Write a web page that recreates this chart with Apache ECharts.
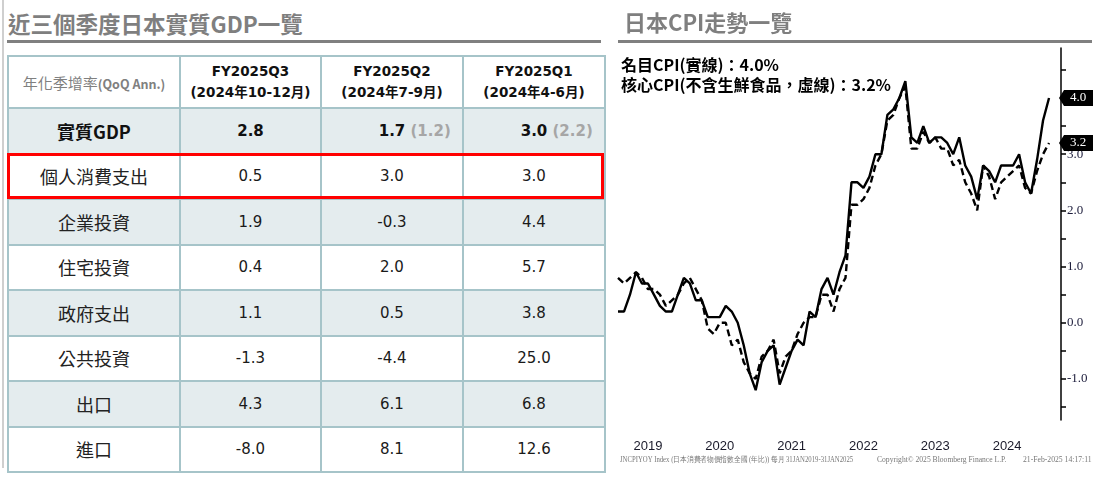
<!doctype html>
<html lang="zh-hant">

<head>
	<meta charset="UTF-8">
	<title>日本GDP與CPI</title>
	<script src="https://cdn.jsdelivr.net/npm/echarts@6/dist/echarts.min.js"></script>
	<style>
		html, body { margin: 0; padding: 0; background: #fff; }
		#page { position: relative; width: 1105px; height: 481px; overflow: hidden; }
		.vbar { position: absolute; left: 2px; top: 0; width: 2px; height: 468px; background: #cfcfcf; }
		.h1 { position: absolute; top: 9px; font: bold 22.5px/28px "Noto Sans CJK TC", sans-serif; color: #7f7f7f; white-space: nowrap; }
		.rule { position: absolute; top: 40px; height: 3px; background: #808080; }
		#gdp { position: absolute; left: 7px; top: 55px; width: 597px; border-collapse: collapse; table-layout: fixed; }
		#gdp td { border: 2px solid #a6c4c9; padding: 0; text-align: center; vertical-align: middle;
			font: 15px "DejaVu Sans", "Noto Sans CJK TC", sans-serif; color: #1a1a1a; }
		#gdp tr.head td { height: 50px; }
		#gdp tr.row td { height: 43.5px; }
		#gdp tr.shade td { background: #e4ecee; }
		#gdp td.name { font: 18px "Noto Sans CJK TC", sans-serif; color: #222; }
		#gdp td.corner { font: 15px "Noto Sans CJK TC", sans-serif; color: #808080; }
		#gdp td.corner span { font: bold 12.5px "Noto Sans CJK TC", sans-serif; }
		#gdp td.qh { font: bold 13.5px/21px "DejaVu Sans", "Noto Sans CJK TC", sans-serif; color: #111; }
		#gdp tr.gdp td { font-weight: bold; color: #111; }
		#gdp tr.gdp td.name { font: bold 18px "Noto Sans CJK TC", sans-serif; color: #111; }
		.n { position: relative; }
		.p { position: absolute; left: 100%; top: 0; white-space: nowrap; color: #a6a6a6; }
		.redbox { position: absolute; left: 7px; top: 153px; width: 597px; height: 46px; box-sizing: border-box; border: 3px solid #ff0000; }
		#cpi { position: absolute; left: 605px; top: 0; width: 500px; height: 481px; }
	</style>
</head>

<body>
	<div id="page">
		<div class="vbar"></div>
		<div class="h1" style="left:8px">近三個季度日本實質GDP一覽</div>
		<div class="rule" style="left:7px;width:594px"></div>
		<table id="gdp"></table>
		<div class="redbox"></div>
		<div id="cpi"></div>
	</div>

	<script>
		// GDP 表格資料
		var quarterNames = ['FY2025Q3', 'FY2025Q2', 'FY2025Q1'];
		var quarterMonths = ['(2024年10-12月)', '(2024年7-9月)', '(2024年4-6月)'];
		var itemNames = ['實質GDP', '個人消費支出', '企業投資', '住宅投資', '政府支出', '公共投資', '出口', '進口'];
		var q3Values = [2.8, 0.5, 1.9, 0.4, 1.1, -1.3, 4.3, -8.0];
		var q2Values = [1.7, 3.0, -0.3, 2.0, 0.5, -4.4, 6.1, 8.1];
		var q1Values = [3.0, 3.0, 4.4, 5.7, 3.8, 25.0, 6.8, 12.6];
		var gdpPrevious = [null, 1.2, 2.2]; // 前次公布值(括號)

		// CPI 年增率 2019/01 - 2025/01
		var headlineCPI = [
			0.2, 0.2, 0.5, 0.9, 0.7, 0.7, 0.5, 0.3, 0.2, 0.2, 0.5, 0.8,
			0.7, 0.4, 0.4, 0.1, 0.1, 0.1, 0.3, 0.2, 0.0, -0.4, -0.9, -1.2,
			-0.7, -0.5, -0.4, -1.1, -0.8, -0.5, -0.3, -0.4, 0.2, 0.1, 0.6, 0.8,
			0.5, 0.9, 1.2, 2.5, 2.5, 2.4, 2.6, 3.0, 3.0, 3.7, 3.8, 4.0,
			4.3, 3.3, 3.2, 3.5, 3.2, 3.3, 3.3, 3.2, 3.0, 3.3, 2.8, 2.6,
			2.2, 2.8, 2.7, 2.5, 2.8, 2.8, 2.8, 3.0, 2.5, 2.3, 2.9, 3.6,
			4.0
		];
		var coreCPI = [
			0.8, 0.7, 0.8, 0.9, 0.8, 0.6, 0.6, 0.5, 0.3, 0.4, 0.5, 0.7,
			0.8, 0.6, 0.4, -0.1, -0.2, 0.0, 0.0, -0.4, -0.3, -0.7, -0.9, -1.0,
			-0.6, -0.5, -0.3, -0.9, -0.6, -0.5, -0.2, 0.0, 0.1, 0.1, 0.5, 0.5,
			0.2, 0.6, 0.8, 2.1, 2.1, 2.2, 2.4, 2.8, 3.0, 3.6, 3.7, 4.0,
			4.2, 3.1, 3.1, 3.4, 3.2, 3.3, 3.1, 3.1, 2.8, 2.9, 2.5, 2.3,
			2.0, 2.8, 2.6, 2.2, 2.5, 2.6, 2.7, 2.8, 2.4, 2.3, 2.7, 3.0,
			3.2
		];
		var yearLabels = ['2019', '2020', '2021', '2022', '2023', '2024'];
		var yTickValues = [-1.5, -1.0, -0.5, 0.0, 0.5, 1.0, 1.5, 2.0, 2.5, 3.0, 3.5, 4.0, 4.5];
		var yLabelValues = [-1.0, 0.0, 1.0, 2.0, 3.0];

		// 月份類別 (軸延伸到 2025/03)
		var months = [];
		for (var y = 2019; y <= 2025; y++) {
			for (var m = 1; m <= 12; m++) {
				if (y === 2025 && m > 3) break;
				months.push(y + '-' + (m < 10 ? '0' + m : m));
			}
		}
	</script>

	<!-- 表格 -->
	<script>
		var table = document.getElementById('gdp');
		var cols = [q3Values, q2Values, q1Values];
		var html = '<colgroup><col style="width:172px"><col style="width:141px"><col style="width:142px"><col style="width:142px"></colgroup>';
		html += '<tr class="head"><td class="corner">年化季增率<span>(QoQ Ann.)</span></td>';
		for (var i = 0; i < quarterNames.length; i++) {
			html += '<td class="qh">' + quarterNames[i] + '<br>' + quarterMonths[i] + '</td>';
		}
		html += '</tr>';
		for (var r = 0; r < itemNames.length; r++) {
			var cls = 'row' + (r % 2 === 0 ? ' shade' : '') + (r === 0 ? ' gdp' : '');
			html += '<tr class="' + cls + '"><td class="name">' + itemNames[r] + '</td>';
			for (var c = 0; c < cols.length; c++) {
				var txt = cols[c][r].toFixed(1);
				if (r === 0 && gdpPrevious[c] !== null) {
					txt = '<span class="n">' + txt + '<span class="p">&nbsp;(' + gdpPrevious[c].toFixed(1) + ')</span></span>';
				}
				html += '<td>' + txt + '</td>';
			}
			html += '</tr>';
		}
		table.innerHTML = html;
	</script>

	<!-- chart -->
	<script>
		var cpiChart = echarts.init(document.getElementById('cpi'));
		var last = headlineCPI.length - 1;
		var tagSymbol = 'path://M0,8 L5,0 L34,0 L34,16 L5,16 Z';

		function endTag(val) {
			return {
				symbol: tagSymbol,
				symbolSize: [34, 16],
				symbolOffset: [27, 0],
				itemStyle: { color: '#000' },
				label: {
					show: true,
					position: 'inside',
					offset: [2, 0],
					color: '#fff',
					fontFamily: 'Liberation Serif',
					fontSize: 13,
					formatter: function () { return val.toFixed(1); }
				},
				data: [{ coord: [last, val] }]
			};
		}

		var footFont = '8px "Liberation Serif"';

		option = {
			animation: false,
			title: [
				{
					text: '日本CPI走勢一覽',
					left: 14, top: 7,
					textStyle: { fontFamily: 'Noto Sans CJK TC', fontSize: 22, fontWeight: 'bold', color: '#7f7f7f' }
				},
				{
					text: '名目CPI(實線)：' + headlineCPI[last].toFixed(1) + '%',
					left: 11, top: 52,
					textStyle: { fontFamily: 'Noto Sans CJK TC', fontSize: 16, fontWeight: 'bold', color: '#000' }
				},
				{
					text: '核心CPI(不含生鮮食品，虛線)：' + coreCPI[last].toFixed(1) + '%',
					left: 11, top: 72,
					textStyle: { fontFamily: 'Noto Sans CJK TC', fontSize: 16, fontWeight: 'bold', color: '#000' }
				}
			],
			graphic: [
				{ type: 'rect', shape: { x: 13, y: 40, width: 474, height: 3 }, style: { fill: '#808080' } },
				{ type: 'text', x: 15, y: 460, scaleX: 0.84, style: { text: 'JNCPIYOY Index (日本消費者物價指數全國 (年比)) 每月 31JAN2019-31JAN2025', font: footFont, fill: '#777', verticalAlign: 'middle' } },
				{ type: 'text', x: 272, y: 460, scaleX: 0.95, style: { text: 'Copyright© 2025 Bloomberg Finance L.P.', font: footFont, fill: '#777', verticalAlign: 'middle' } },
				{ type: 'text', x: 418, y: 460, scaleX: 0.96, style: { text: '21-Feb-2025 14:17:11', font: footFont, fill: '#777', verticalAlign: 'middle' } }
			],
			grid: { left: 13, right: 44, top: 48, bottom: 61 },
			xAxis: {
				type: 'category',
				data: months,
				boundaryGap: false,
				axisLine: { show: false },
				axisTick: { show: false },
				axisLabel: {
					interval: function (idx, val) {
						return val.slice(5) === '06' && yearLabels.indexOf(val.slice(0, 4)) >= 0;
					},
					formatter: function (val) { return val.slice(0, 4); },
					margin: 20,
					color: '#1a1a2a',
					fontFamily: 'Liberation Sans',
					fontSize: 13
				}
			},
			yAxis: {
				type: 'value',
				position: 'right',
				min: -1.73,
				max: 4.89,
				splitLine: { show: false },
				axisLine: { show: true, lineStyle: { color: '#000', width: 1.5 } },
				axisTick: { show: true, customValues: yTickValues, length: 5, lineStyle: { color: '#000', width: 1.5 } },
				axisLabel: {
					customValues: yLabelValues,
					formatter: function (v) { return v.toFixed(1); },
					margin: 6,
					color: '#1b1b3a',
					fontFamily: 'Liberation Serif',
					fontSize: 13
				}
			},
			series: [
				{
					name: '名目CPI',
					type: 'line',
					data: headlineCPI,
					showSymbol: false,
					lineStyle: { color: '#000', width: 2.4 },
					markPoint: endTag(headlineCPI[last])
				},
				{
					name: '核心CPI',
					type: 'line',
					data: coreCPI,
					showSymbol: false,
					lineStyle: { color: '#000', width: 2.4, type: [7, 4] },
					markPoint: endTag(coreCPI[last])
				}
			]
		};
		cpiChart.setOption(option);
	</script>

</body>

</html>
